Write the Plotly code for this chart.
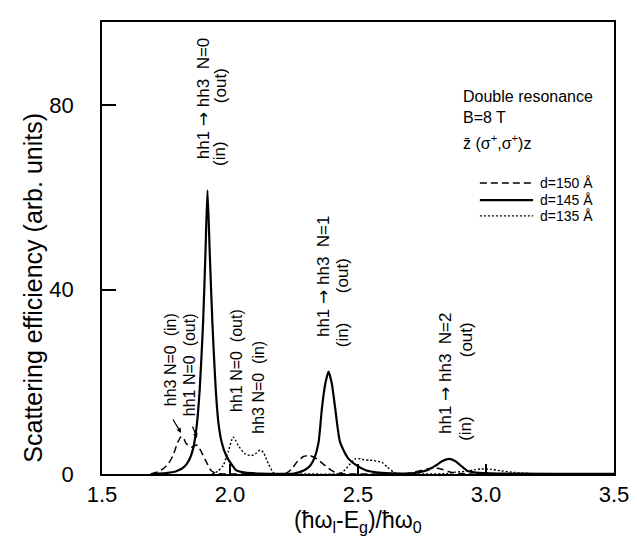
import plotly.graph_objects as go

# ---- data ----
x_d150 = [1.69, 1.72, 1.738, 1.76, 1.777, 1.797, 1.81, 1.82, 1.829, 1.849, 1.869, 1.878, 1.888,
          1.908, 1.927, 1.95, 1.98, 2.10, 2.20, 2.22, 2.24, 2.26, 2.287, 2.313, 2.339, 2.372,
          2.405, 2.44, 2.55, 2.68, 2.718, 2.77, 2.797, 2.823, 2.855, 2.90, 2.95]
y_d150 = [0.0, 0.5, 1.1, 2.3, 4.0, 7.0, 8.1, 7.6, 6.6, 5.8, 6.3, 5.8, 4.8,
          2.6, 0.7, 0.1, 0.0, 0.0, 0.0, 0.2, 1.0, 2.5, 3.8, 4.0, 3.3, 1.8,
          0.5, 0.05, 0.0, 0.05, 0.4, 1.1, 1.3, 1.1, 0.5, 0.1, 0.0]

x_d145 = [1.70, 1.75, 1.79, 1.82, 1.84, 1.856, 1.870, 1.882, 1.895, 1.904, 1.912, 1.921, 1.931,
          1.944, 1.955, 1.967, 1.985, 2.0, 2.025, 2.06, 2.12, 2.20, 2.25, 2.29, 2.313, 2.33,
          2.346, 2.359, 2.372, 2.385, 2.398, 2.411, 2.43, 2.46, 2.496, 2.53, 2.58, 2.65, 2.72,
          2.77, 2.80, 2.83, 2.855, 2.88, 2.90, 2.927, 2.96, 3.05, 3.5]
y_d145 = [0.0, 0.2, 0.6, 1.5, 3.0, 5.5, 10.5, 18.6, 33.0, 47.7, 61.5, 47.7, 33.0,
          18.6, 11.0, 7.0, 4.0, 2.6, 0.8, 0.3, 0.1, 0.05, 0.1, 0.8, 1.8, 3.5,
          6.9, 14.2, 19.5, 22.2, 19.5, 14.2, 6.9, 3.5, 1.8, 0.8, 0.3, 0.1, 0.2,
          0.8, 1.7, 2.8, 3.3, 2.8, 1.9, 0.7, 0.3, 0.1, 0.05]

x_d135 = [1.93, 1.95, 1.973, 1.993, 2.012, 2.022, 2.032, 2.058, 2.084, 2.10, 2.117, 2.13, 2.15,
          2.17, 2.19, 2.30, 2.42, 2.44, 2.47, 2.49, 2.51, 2.522, 2.545, 2.562, 2.594, 2.614,
          2.64, 2.67, 2.76, 2.85, 2.88, 2.927, 2.953, 2.98, 3.019, 3.058, 3.11, 3.17, 3.25]
y_d135 = [0.0, 0.5, 1.8, 4.8, 8.0, 7.3, 6.2, 4.4, 4.0, 4.4, 5.2, 4.7, 2.2,
          0.3, 0.0, 0.0, 0.05, 0.4, 2.2, 3.3, 3.3, 3.1, 3.0, 2.9, 2.5, 1.5,
          0.4, 0.05, 0.0, 0.1, 0.4, 0.6, 0.9, 1.1, 1.0, 0.7, 0.35, 0.1, 0.0]

series_names = ["d=150 Å", "d=145 Å", "d=135 Å"]
x_ticks = [1.5, 2.0, 2.5, 3.0, 3.5]
x_tick_labels = ["1.5", "2.0", "2.5", "3.0", "3.5"]
y_ticks = [0, 40, 80]
y_tick_labels = ["0", "40", "80"]

FONT = "Liberation Sans"
DASHES = ["7px,4px", "solid", "2px,2px"]
WIDTHS = [1.5, 2.2, 1.4]
ARROW = '<span style="font-family:DejaVu Sans">→</span>'

fig = go.Figure()
for xs, ys, nm, ds, w in zip([x_d150, x_d145, x_d135], [y_d150, y_d145, y_d135],
                             series_names, DASHES, WIDTHS):
    fig.add_trace(go.Scatter(x=xs, y=ys, mode="lines", name=nm, showlegend=False,
                             line=dict(color="black", width=w, dash=ds,
                                       shape="spline", smoothing=0.6)))

annots = []
shapes = []

def rot(text, x, y, size=16):
    annots.append(dict(text=text, x=x, y=y, xref="x", yref="y", showarrow=False,
                       textangle=-90, font=dict(family=FONT, size=size, color="black")))

# transition labels
rot("hh1 " + ARROW + " hh3  N=0", 1.895, 81.5, 17)
rot("(in)", 1.961, 69.4, 17)
rot("(out)", 1.961, 84.1, 17)
rot("hh1 " + ARROW + " hh3  N=1", 2.363, 42.9, 17)
rot("(in)", 2.4375, 30.1, 17)
rot("(out)", 2.4375, 42.9, 17)
rot("hh1 " + ARROW + " hh3  N=2", 2.840, 21.9, 17)
rot("(in)", 2.922, 9.8, 17)
rot("(out)", 2.922, 29.0, 17)
rot("hh3 N=0  (in)", 1.766, 24.7)
rot("hh1 N=0  (out)", 1.840, 23.6)
rot("hh1 N=0  (out)", 2.023, 24.7)
rot("hh3 N=0  (in)", 2.113, 18.9)

# small arrows
annots.append(dict(x=1.809, y=8.9, xref="x", yref="y", ax=-9, ay=-15, text="",
                   showarrow=True, arrowhead=2, arrowsize=0.8, arrowwidth=1.2, arrowcolor="black"))
annots.append(dict(x=1.871, y=7.8, xref="x", yref="y", ax=-5, ay=-13, text="",
                   showarrow=True, arrowhead=2, arrowsize=0.8, arrowwidth=1.2, arrowcolor="black"))

# text block
for txt, yp in [("Double resonance", 0.836), ("B=8 T", 0.788),
                ("z\u0304 (σ<sup>+</sup>,σ<sup>+</sup>)z", 0.735)]:
    annots.append(dict(text=txt, x=0.701, y=yp, xref="paper", yref="paper", showarrow=False,
                       xanchor="left", yanchor="middle",
                       font=dict(family=FONT, size=16, color="black")))

# key (line samples + labels)
key_y = [0.644, 0.606, 0.571]
for nm, ds, w, yk in zip(series_names, DASHES, WIDTHS, key_y):
    shapes.append(dict(type="line", xref="paper", yref="paper", x0=0.738, x1=0.842, y0=yk, y1=yk,
                       line=dict(color="black", width=w, dash=ds)))
    annots.append(dict(text=nm, x=0.852, y=yk, xref="paper", yref="paper", showarrow=False,
                       xanchor="left", yanchor="middle",
                       font=dict(family=FONT, size=14, color="black")))

# axis titles
annots.append(dict(text="Scattering efficiency (arb. units)", x=-0.135, y=0.412,
                   xref="paper", yref="paper", showarrow=False, textangle=-90,
                   xanchor="center", yanchor="middle",
                   font=dict(family=FONT, size=25, color="black")))
annots.append(dict(text="(ħω<sub>l</sub>-E<sub>g</sub>)/ħω<sub>0</sub>", x=0.5, y=-0.104,
                   xref="paper", yref="paper", showarrow=False,
                   xanchor="center", yanchor="middle",
                   font=dict(family=FONT, size=23, color="black")))

fig.update_layout(
    width=637, height=541,
    margin=dict(l=94, r=31, t=14, b=75),
    paper_bgcolor="white", plot_bgcolor="white",
    annotations=annots, shapes=shapes,
    showlegend=False,
    font=dict(family=FONT, color="black"),
)
fig.update_xaxes(range=[1.5, 3.5], tickvals=x_ticks, ticktext=x_tick_labels,
                 ticks="inside", ticklen=10, tickwidth=1.5, tickcolor="black",
                 showline=True, linecolor="black", linewidth=1.5, mirror=True,
                 showgrid=False, zeroline=False, ticklabelstandoff=0,
                 tickfont=dict(family=FONT, size=22, color="black"))
fig.update_yaxes(range=[0, 98], tickvals=y_ticks, ticktext=y_tick_labels,
                 ticks="inside", ticklen=14, tickwidth=1.5, tickcolor="black",
                 showline=True, linecolor="black", linewidth=1.5, mirror=True,
                 showgrid=False, zeroline=False, ticklabelstandoff=22,
                 tickfont=dict(family=FONT, size=22, color="black"))

fig.write_html("out.html")
